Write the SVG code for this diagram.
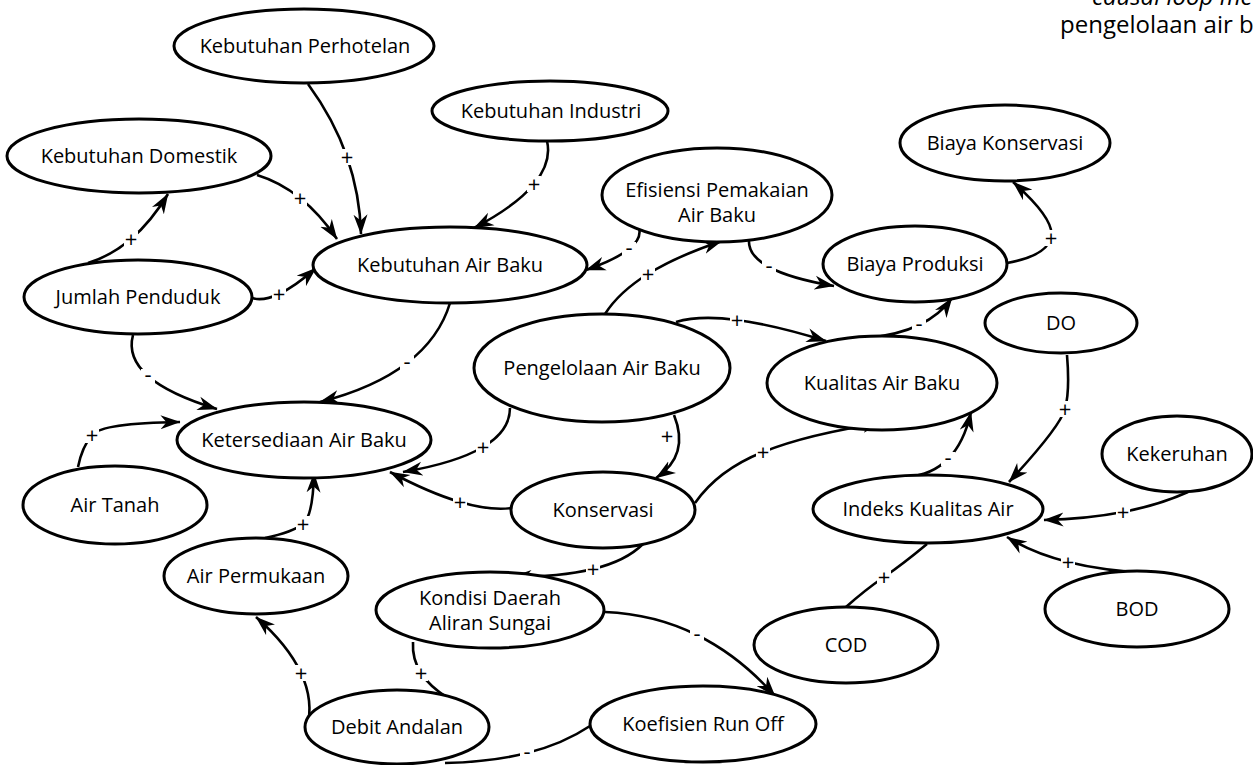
<svg xmlns="http://www.w3.org/2000/svg" width="1253" height="765" viewBox="0 0 1253 765">
<style>
  .node ellipse { fill: #fff; stroke: #000; stroke-width: 3; }
  .node text { font-family: "Open Sans", "Noto Sans", "Liberation Sans", sans-serif; font-size: 20px; fill: #000; text-anchor: middle; }
  .conn path { fill: none; stroke: #000; stroke-width: 2.6; }
  .conn path.a { marker-end: url(#arr); }
  .lbl rect { fill: #fff; stroke: none; }
  .lbl text { font-family: "Open Sans", "Noto Sans", "Liberation Sans", sans-serif; font-size: 22px; fill: #000; text-anchor: middle; }
  .title { font-family: "Open Sans", "Noto Sans", "Liberation Sans", sans-serif; font-size: 24px; fill: #000; }
</style>
<defs>
  <marker id="arr" markerUnits="userSpaceOnUse" markerWidth="21" markerHeight="15" refX="19.5" refY="7.5" orient="auto" viewBox="0 0 21 15">
    <path d="M0,0.5 L20,7.5 L0,14.5 L6,7.5 Z" fill="#000"/>
  </marker>
</defs>
<rect width="1253" height="765" fill="#fff"/>

<text class="title" x="1092" y="5" font-style="italic">causal loop me</text>
<text class="title" x="1060" y="33">pengelolaan air b</text>

<g id="connectors" class="conn">
  <path class="a" d="M308,84 Q334,119.5 347,157 T361,234"/>
  <path class="a" d="M257,175 Q280,182 300,198 T337,239"/>
  <path class="a" d="M88,263 Q111,256 131,239 T168,194"/>
  <path class="a" d="M252,298 Q263,301.5 279,294 T316,268"/>
  <path class="a" d="M133,335 Q127,357.5 148,376 T217,409"/>
  <path class="a" d="M450,303 Q439.5,338 407,363 T320,402"/>
  <path class="a" d="M78,467 Q82,447 92,435 T180,422"/>
  <path class="a" d="M265,538 Q293,532 303,524 T314,473"/>
  <path class="a" d="M510,408 Q510,431 483,447 T403,472"/>
  <path class="a" d="M605,314 Q619,292 648,274 T722,241"/>
  <path class="a" d="M639,228 Q642,238.5 629,249 T586,270"/>
  <path class="a" d="M749,240 Q748,255.5 769,267 T834,286"/>
  <path class="a" d="M1007,263 Q1046,256 1051,238 T1013,182"/>
  <path class="a" d="M676,322 Q699.5,315 737,320 T826,341"/>
  <path class="a" d="M867,338 Q898,335 919,325 T952,298"/>
  <path class="a" d="M674,415 C684,440 680,462 656,478"/>
  <path class="a" d="M512,508 Q490.5,511 460,502 T390,472"/>
  <path class="a" d="M695,503 Q718,470 763,452 T882,423"/>
  <path class="a" d="M907,477 Q932,475 948,459 T971,412"/>
  <path class="a" d="M1067,355 Q1070,391 1065,409 T1009,482"/>
  <path class="a" d="M1188,492 Q1159,505 1123,512 T1044,520"/>
  <path class="a" d="M1150,573 Q1104,571 1068,562 T1007,537"/>
  <path d="M846,607 Q865,590 884,577 T927,544"/>
  <path class="a" d="M643,544 Q626,561 593,569 T512,577"/>
  <path class="a" d="M605,612 Q654.5,614 697,635 T775,696"/>
  <path d="M413,642 Q412,659 421,673 T448,698"/>
  <path class="a" d="M307,728 Q314,701 301,673 T256,617"/>
  <path d="M590,726 Q563,744 527,753 T445,763"/>
  <path class="a" d="M547,141 Q552,162 534,184 T474,228"/>
</g>

<g id="connector-labels" class="lbl" font-family="Open Sans, Noto Sans, sans-serif" font-size="22" text-anchor="middle">
  <rect x="340" y="149" width="14" height="16"/><text x="347" y="165">+</text>
  <rect x="293" y="190" width="14" height="16"/><text x="300" y="206">+</text>
  <rect x="124" y="231" width="14" height="16"/><text x="131" y="247">+</text>
  <rect x="272" y="286" width="14" height="16"/><text x="279" y="302">+</text>
  <rect x="141" y="369" width="14" height="14"/><text x="148" y="382">-</text>
  <rect x="400" y="356" width="14" height="14"/><text x="407" y="369">-</text>
  <rect x="85" y="427" width="14" height="16"/><text x="92" y="443">+</text>
  <rect x="296" y="516" width="14" height="16"/><text x="303" y="532">+</text>
  <rect x="476" y="439" width="14" height="16"/><text x="483" y="455">+</text>
  <rect x="641" y="266" width="14" height="16"/><text x="648" y="282">+</text>
  <rect x="622" y="242" width="14" height="14"/><text x="629" y="255">-</text>
  <rect x="762" y="260" width="14" height="14"/><text x="769" y="273">-</text>
  <rect x="1044" y="230" width="14" height="16"/><text x="1051" y="246">+</text>
  <rect x="730" y="312" width="14" height="16"/><text x="737" y="328">+</text>
  <rect x="912" y="318" width="14" height="14"/><text x="919" y="331">-</text>
  <text x="667" y="444">+</text>
  <rect x="453" y="494" width="14" height="16"/><text x="460" y="510">+</text>
  <rect x="756" y="444" width="14" height="16"/><text x="763" y="460">+</text>
  <rect x="941" y="452" width="14" height="14"/><text x="948" y="465">-</text>
  <rect x="1058" y="401" width="14" height="16"/><text x="1065" y="417">+</text>
  <rect x="1116" y="504" width="14" height="16"/><text x="1123" y="520">+</text>
  <rect x="1061" y="554" width="14" height="16"/><text x="1068" y="570">+</text>
  <rect x="877" y="569" width="14" height="16"/><text x="884" y="585">+</text>
  <rect x="586" y="561" width="14" height="16"/><text x="593" y="577">+</text>
  <rect x="690" y="628" width="14" height="14"/><text x="697" y="641">-</text>
  <rect x="414" y="665" width="14" height="16"/><text x="421" y="681">+</text>
  <rect x="294" y="665" width="14" height="16"/><text x="301" y="681">+</text>
  <rect x="520" y="746" width="14" height="14"/><text x="527" y="759">-</text>
  <rect x="527" y="176" width="14" height="16"/><text x="534" y="192">+</text>
</g>

<g id="kebutuhan-perhotelan" class="node"><ellipse cx="304" cy="46" rx="130" ry="37"/><text x="305" y="53">Kebutuhan Perhotelan</text></g>
<g id="kebutuhan-domestik" class="node"><ellipse cx="139" cy="156" rx="132" ry="37"/><text x="139" y="163">Kebutuhan Domestik</text></g>
<g id="kebutuhan-industri" class="node"><ellipse cx="550" cy="111" rx="118" ry="30"/><text x="551" y="118">Kebutuhan Industri</text></g>
<g id="efisiensi" class="node"><ellipse cx="717" cy="195" rx="115" ry="47"/><text x="717" y="197">Efisiensi Pemakaian</text><text x="717" y="222">Air Baku</text></g>
<g id="kebutuhan-air-baku" class="node"><ellipse cx="450" cy="265" rx="137" ry="38"/><text x="450" y="272">Kebutuhan Air Baku</text></g>
<g id="biaya-konservasi" class="node"><ellipse cx="1005" cy="143" rx="105" ry="38"/><text x="1005" y="150">Biaya Konservasi</text></g>
<g id="biaya-produksi" class="node"><ellipse cx="915" cy="264" rx="92" ry="38"/><text x="915" y="271">Biaya Produksi</text></g>
<g id="jumlah-penduduk" class="node"><ellipse cx="138" cy="297" rx="114" ry="37"/><text x="138" y="304">Jumlah Penduduk</text></g>
<g id="ketersediaan" class="node"><ellipse cx="304" cy="440" rx="127" ry="38"/><text x="304" y="447">Ketersediaan Air Baku</text></g>
<g id="air-tanah" class="node"><ellipse cx="115" cy="505" rx="92" ry="39"/><text x="115" y="512">Air Tanah</text></g>
<g id="pengelolaan" class="node"><ellipse cx="602" cy="368" rx="128" ry="54"/><text x="602" y="375">Pengelolaan Air Baku</text></g>
<g id="kualitas" class="node"><ellipse cx="882" cy="383" rx="115" ry="47"/><text x="882" y="390">Kualitas Air Baku</text></g>
<g id="do" class="node"><ellipse cx="1061" cy="323" rx="76" ry="30"/><text x="1061" y="330">DO</text></g>
<g id="kekeruhan" class="node"><ellipse cx="1177" cy="454" rx="75" ry="38"/><text x="1177" y="461">Kekeruhan</text></g>
<g id="indeks" class="node"><ellipse cx="928" cy="509" rx="115" ry="34"/><text x="928" y="516">Indeks Kualitas Air</text></g>
<g id="konservasi" class="node"><ellipse cx="603" cy="510" rx="92" ry="38"/><text x="603" y="517">Konservasi</text></g>
<g id="bod" class="node"><ellipse cx="1137" cy="609" rx="92" ry="38"/><text x="1137" y="616">BOD</text></g>
<g id="cod" class="node"><ellipse cx="846" cy="645" rx="92" ry="38"/><text x="846" y="652">COD</text></g>
<g id="air-permukaan" class="node"><ellipse cx="256" cy="576" rx="92" ry="38"/><text x="256" y="583">Air Permukaan</text></g>
<g id="kondisi-das" class="node"><ellipse cx="490" cy="610" rx="114" ry="38"/><text x="490" y="605">Kondisi Daerah</text><text x="490" y="630">Aliran Sungai</text></g>
<g id="debit-andalan" class="node"><ellipse cx="397" cy="727" rx="92" ry="37"/><text x="397" y="734">Debit Andalan</text></g>
<g id="koefisien" class="node"><ellipse cx="703" cy="724" rx="113" ry="38"/><text x="703" y="731">Koefisien Run Off</text></g>
</svg>
